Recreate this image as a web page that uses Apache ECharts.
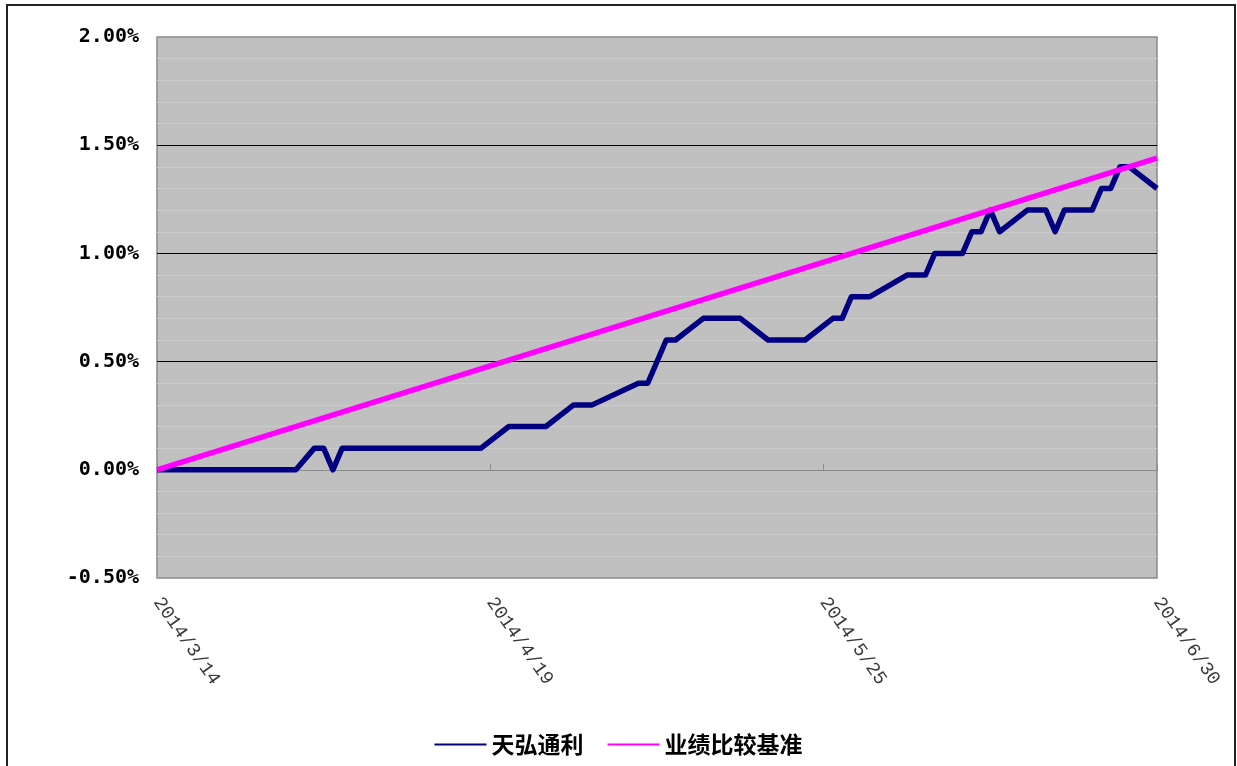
<!DOCTYPE html>
<html>
<head>
<meta charset="utf-8">
<script src="https://cdn.jsdelivr.net/npm/echarts@6/dist/echarts.min.js"></script>
<style>
html,body{margin:0;padding:0;background:#fff;}
#c{width:1237px;height:766px;}
</style>
</head>
<body>
<div id="c"></div>
<script>
// ---- data (values in %) ----
var startDate = '2014-03-14';
var endDate = '2014-06-30';
var tickStepDays = 36;

var fundName = '天弘通利';
var fundDates = ['2014-03-14','2014-03-29','2014-03-31','2014-04-01','2014-04-02','2014-04-03','2014-04-18','2014-04-21','2014-04-25','2014-04-28','2014-04-30','2014-05-05','2014-05-06','2014-05-08','2014-05-09','2014-05-12','2014-05-16','2014-05-19','2014-05-23','2014-05-26','2014-05-27','2014-05-28','2014-05-30','2014-06-03','2014-06-05','2014-06-06','2014-06-09','2014-06-10','2014-06-11','2014-06-12','2014-06-13','2014-06-16','2014-06-18','2014-06-19','2014-06-20','2014-06-23','2014-06-24','2014-06-25','2014-06-26','2014-06-27','2014-06-30'];
var fundValues = [0,0,0.1,0.1,0,0.1,0.1,0.2,0.2,0.3,0.3,0.4,0.4,0.6,0.6,0.7,0.7,0.6,0.6,0.7,0.7,0.8,0.8,0.9,0.9,1.0,1.0,1.1,1.1,1.2,1.1,1.2,1.2,1.1,1.2,1.2,1.3,1.3,1.4,1.4,1.3];

var benchName = '业绩比较基准';
var benchDates = ['2014-03-14','2014-04-19','2014-05-25','2014-06-30'];
var benchValues = [0,0.48,0.96,1.44];

var yMin = -0.5, yMax = 2.0, yStep = 0.5;

// ---- helpers ----
function dayNum(s){ var p = s.split('-'); return Date.UTC(+p[0], +p[1]-1, +p[2]) / 86400000; }
var d0 = dayNum(startDate);
var dEnd = dayNum(endDate) - d0;
function toPairs(dates, vals){ return dates.map(function(d,i){ return [dayNum(d)-d0, vals[i]]; }); }
function fmtDay(v){
  var dt = new Date((d0 + v) * 86400000);
  return dt.getUTCFullYear() + '/' + (dt.getUTCMonth()+1) + '/' + dt.getUTCDate();
}

var chart = echarts.init(document.getElementById('c'), null, {renderer:'canvas'});
chart.setOption({
  backgroundColor: '#ffffff',
  animation: false,
  graphic: [{
    type: 'rect', z: 100, silent: true,
    shape: {x: 7, y: 5, width: 1228, height: 800},
    style: {fill: 'none', stroke: '#222', lineWidth: 2}
  }],
  grid: {
    left: 157, right: 80, top: 37, bottom: 188,
    show: true, backgroundColor: '#c0c0c0', borderColor: '#8a8a8a', borderWidth: 1.5
  },
  legend: {
    top: 728, left: 'center',
    icon: 'rect', itemWidth: 52, itemHeight: 2, itemGap: 24,
    textStyle: {fontFamily: 'Noto Sans CJK SC', fontSize: 23, fontWeight: 'bold', color: '#000', padding: [0,0,0,0]},
    data: [fundName, benchName]
  },
  xAxis: [{
    type: 'value', min: 0, max: dEnd, interval: tickStepDays, position: 'bottom',
    axisLine: {show: false, onZero: false},
    axisTick: {show: false},
    splitLine: {show: false},
    axisLabel: {
      formatter: fmtDay, rotate: -55, margin: 21,
      fontFamily: 'Liberation Mono', fontSize: 19, color: '#3a3a3a',
      showMinLabel: true, showMaxLabel: true
    }
  }, {
    type: 'value', min: 0, max: dEnd, interval: tickStepDays, position: 'bottom',
    axisLine: {show: true, onZero: true, lineStyle: {color: '#8a8a8a', width: 1}},
    axisTick: {show: true, inside: true, length: 6, lineStyle: {color: '#8a8a8a'}},
    axisLabel: {show: false},
    splitLine: {show: false}
  }],
  yAxis: {
    type: 'value', min: yMin, max: yMax, interval: yStep,
    axisLine: {show: false},
    axisTick: {show: false},
    axisLabel: {
      formatter: function(v){ return v.toFixed(2) + '%'; },
      fontFamily: 'DejaVu Sans Mono', fontSize: 20, fontWeight: 'bold', color: '#000', margin: 18
    },
    splitLine: {show: true, showMinLine: false, showMaxLine: false, lineStyle: {color: '#000', width: 1.2}},
    minorTick: {show: false, splitNumber: 5},
    minorSplitLine: {show: true, lineStyle: {color: '#cbcbcb', width: 1}}
  },
  series: [{
    name: fundName, type: 'line', xAxisIndex: 0,
    data: toPairs(fundDates, fundValues),
    symbol: 'none', color: '#000080',
    lineStyle: {width: 5.5, color: '#000080', join: 'round'}
  }, {
    name: benchName, type: 'line', xAxisIndex: 0,
    data: toPairs(benchDates, benchValues),
    symbol: 'none', color: '#ff00ff',
    lineStyle: {width: 5.5, color: '#ff00ff'}
  }]
});
</script>
</body>
</html>
